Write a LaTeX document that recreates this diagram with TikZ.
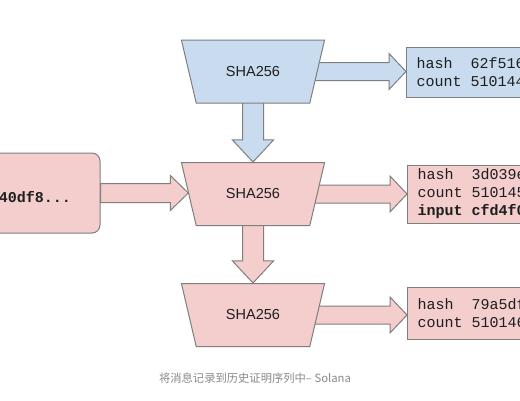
\documentclass[tikz,border=0pt]{standalone}
\usepackage{fontspec}
\newfontfamily\monof{Liberation Mono}
\newfontfamily\sansf{Liberation Sans}
\newfontfamily\cjk{Noto Sans CJK SC}
\usetikzlibrary{shapes.geometric,calc}
\definecolor{bluef}{HTML}{C9DCEF}
\definecolor{pinkf}{HTML}{F4CDCD}
\definecolor{edge}{HTML}{7F7F7F}
\definecolor{capgray}{HTML}{8A8A8A}
\definecolor{ink}{HTML}{1E1E1E}
\pgfdeclarelayer{bg}
\pgfdeclarelayer{paper}
\pgfsetlayers{paper,bg,main}
\newcommand\msp{\hphantom{0}}
\newcommand\fatR[6][]{\path[fat,#1] let \p1=(#2), \p2=(#3) in
  (\x1,\y1+#4pt) -- (\x2-#6pt,\y1+#4pt) -- (\x2-#6pt,\y1+#5pt) -- (\x2,\y1)
  -- (\x2-#6pt,\y1-#5pt) -- (\x2-#6pt,\y1-#4pt) -- (\x1,\y1-#4pt) -- cycle;}
\newcommand\fatD[6][]{\path[fat,#1] let \p1=(#2), \p2=(#3) in
  (\x1-#4pt,\y1) -- (\x1-#4pt,\y2+#6pt) -- (\x1-#5pt,\y2+#6pt) -- (\x1,\y2)
  -- (\x1+#5pt,\y2+#6pt) -- (\x1+#4pt,\y2+#6pt) -- (\x1+#4pt,\y1) -- cycle;}
\begin{document}
\begin{tikzpicture}[x=1pt,y=-1pt,
  fat/.style={draw=edge,line width=1pt,line join=miter},
  sha/.style={trapezium,trapezium angle=65,shape border rotate=180,
    trapezium stretches=true,minimum width=144pt,minimum height=63pt,
    draw=edge,line width=1pt,text=ink,font=\sansf\fontsize{14.5}{16}\selectfont},
  outbox/.style={draw=edge,line width=1pt,anchor=west,text width=140pt,
    inner xsep=10pt,inner ysep=0pt,align=left,text=ink,
    font=\monof\fontsize{15}{18}\selectfont},
  inbox/.style={draw=edge,line width=1pt,rounded corners=8pt,fill=pinkf,
    minimum width=124pt,minimum height=80pt},
  intext/.style={anchor=east,inner sep=0pt,text=ink,
    font=\monof\bfseries\fontsize{15}{18}\selectfont},
  caption/.style={text=capgray,font=\cjk\fontsize{11.3}{13}\selectfont}]
\useasboundingbox (0,0) rectangle (520,400);
\clip (0,0) rectangle (520,400);
\begin{pgfonlayer}{paper}
\fill[white] (0,0) rectangle (520,400);
\end{pgfonlayer}

\node[sha,fill=bluef] (h1) at (253,71.5) {SHA256};
\node[sha,fill=pinkf] (h2) at (253,194) {SHA256};
\node[sha,fill=pinkf] (h3) at (253,315) {SHA256};

\node[outbox,fill=bluef,minimum height=50pt] (b1) at (406,72)
  {hash\msp\msp62f516\\count\msp510144};
\node[outbox,fill=pinkf,minimum height=58pt] (b2) at (407,194)
  {hash\msp\msp3d039e\\count\msp510145\\\textbf{input\msp cfd4f0}};
\node[outbox,fill=pinkf,minimum height=52pt] (b3) at (407,313)
  {hash\msp\msp79a5df\\count\msp510146};

\node[inbox] (in) at (38,193) {};
\node[intext] (intxt) at (71,197) {40df8...};

\node[caption] (cap) at (255,378) {将消息记录到历史证明序列中– Solana};

\begin{pgfonlayer}{bg}
\fatD[fill=bluef]{h1.center}{h2.north}{10.5}{20.5}{22}
\fatD[fill=pinkf]{h2.center}{h3.north}{10.5}{20.5}{22}
\fatR[fill=bluef]{h1.center}{b1.west}{9}{18}{17}
\fatR[fill=pinkf]{h2.center}{b2.west}{9}{18}{17}
\fatR[fill=pinkf]{h3.center}{b3.west}{9}{18}{17}
\fatR[fill=pinkf]{in.east}{h2.west}{9.5}{17.5}{18}
\end{pgfonlayer}
\end{tikzpicture}
\end{document}
